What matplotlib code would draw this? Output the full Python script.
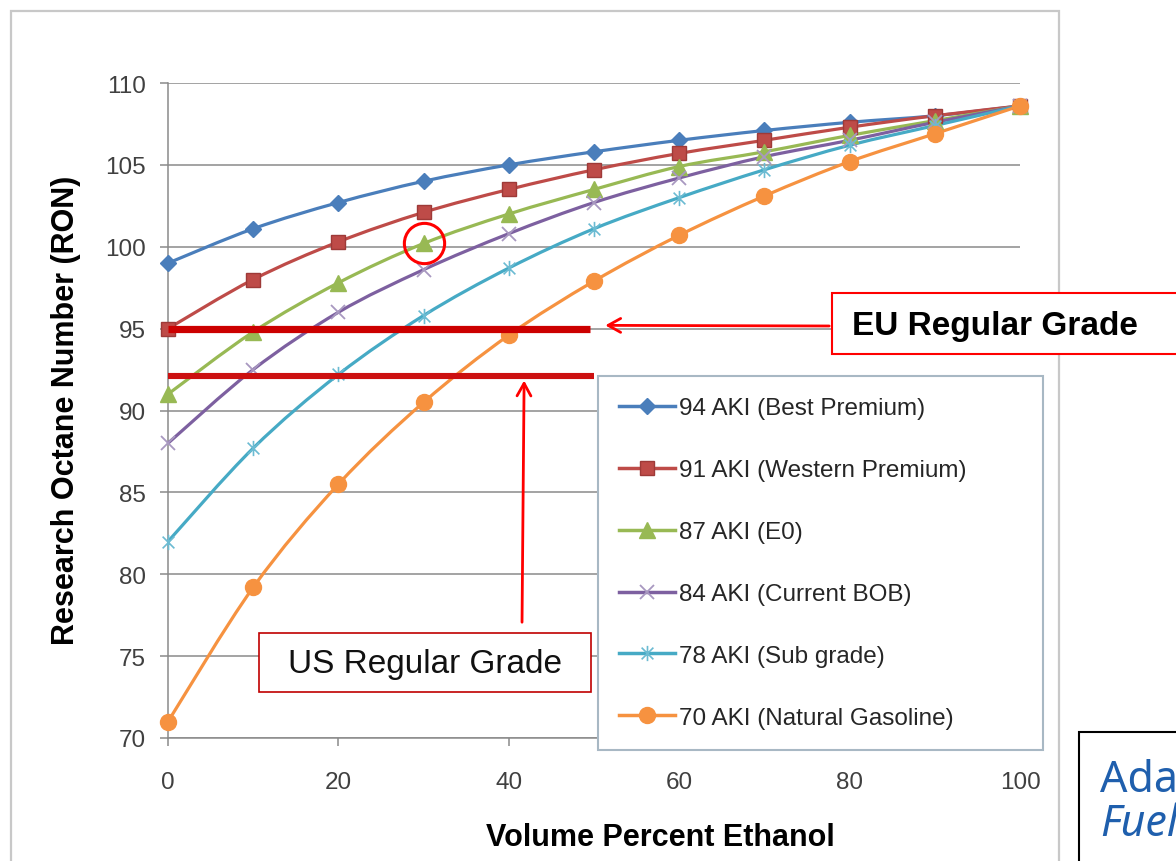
import numpy as np
import matplotlib.pyplot as plt
from matplotlib.path import Path
from matplotlib.patches import PathPatch, Rectangle
from matplotlib.lines import Line2D

plt.rcParams['font.family'] = ['Liberation Sans', 'DejaVu Sans']

# Ethanol blend level (vol %) and resulting RON for each base gasoline
ethanol_pct = [0, 10, 20, 30, 40, 50, 60, 70, 80, 90, 100]
ron_94aki = [99.0, 101.1, 102.7, 104.0, 105.0, 105.8, 106.5, 107.1, 107.6, 108.0, 108.6]
ron_91aki = [95.0, 98.0, 100.3, 102.1, 103.5, 104.7, 105.7, 106.5, 107.3, 108.0, 108.6]
ron_87aki = [91.0, 94.8, 97.8, 100.2, 102.0, 103.5, 104.9, 105.8, 106.8, 107.7, 108.6]
ron_84aki = [88.0, 92.5, 96.0, 98.6, 100.8, 102.7, 104.2, 105.5, 106.5, 107.6, 108.6]
ron_78aki = [82.0, 87.7, 92.2, 95.8, 98.7, 101.1, 103.0, 104.7, 106.2, 107.4, 108.6]
ron_70aki = [71.0, 79.2, 85.5, 90.5, 94.6, 97.9, 100.7, 103.1, 105.2, 106.9, 108.6]

series_labels = ['94 AKI (Best Premium)', '91 AKI (Western Premium)', '87 AKI (E0)',
                 '84 AKI (Current BOB)', '78 AKI (Sub grade)', '70 AKI (Natural Gasoline)']
series_values = [ron_94aki, ron_91aki, ron_87aki, ron_84aki, ron_78aki, ron_70aki]

eu_regular_ron = 95.0
us_regular_ron = 92.1
line_end_pct = 50
highlight_pct, highlight_ron = 30, 100.2

W, H = 1176, 862


def fx(px):
    return px / W


def fy(py):
    return 1 - py / H


# excel-ish asterisk marker: an X with a vertical bar
star = Path([(-1, -1), (1, 1), (-1, 1), (1, -1), (0, -1.3), (0, 1.3)],
            [Path.MOVETO, Path.LINETO, Path.MOVETO, Path.LINETO, Path.MOVETO, Path.LINETO])

styles = [
    dict(color='#4A7EBB', marker='D', ms=8.5, mec='#4A7EBB', mew=1),
    dict(color='#BE4B48', marker='s', ms=10.5, mec='#9E3A38', mew=1),
    dict(color='#98B954', marker='^', ms=11.5, mec='#98B954', mew=1),
    dict(color='#7D60A0', marker='x', ms=10, mec='#A898C0', mew=1.3),
    dict(color='#46AAC5', marker=star, ms=11, mec='#6BBBD2', mew=1.2),
    dict(color='#F69240', marker='o', ms=11.5, mec='#F69240', mew=1),
]


def smooth_path(x, y):
    # Catmull-Rom spline turned into cubic bezier segments
    pts = np.column_stack([x, y]).astype(float)
    ext = np.vstack([pts[0], pts, pts[-1]])
    verts = [pts[0]]
    codes = [Path.MOVETO]
    for i in range(1, len(ext) - 2):
        p0, p1, p2, p3 = ext[i - 1], ext[i], ext[i + 1], ext[i + 2]
        verts += [p1 + (p2 - p0) / 6, p2 - (p3 - p1) / 6, p2]
        codes += [Path.CURVE4] * 3
    return Path(verts, codes)


fig = plt.figure(figsize=(W / 100, H / 100), dpi=100)
ax = fig.add_axes([fx(168), fy(739), fx(1020) - fx(168), fy(84) - fy(739)])

# outer chart frame
fig.add_artist(Rectangle((fx(11), fy(880)), fx(1059) - fx(11), fy(12) - fy(880),
                         transform=fig.transFigure, fill=False, ec='#c8c8c8', lw=1.6))

ax.set_xlim(0, 100)
ax.set_ylim(70, 110)
ax.set_xticks(range(0, 101, 20))
ax.set_yticks(range(70, 111, 5))
ax.grid(axis='y', color='#8a8a8a', lw=1.1)
ax.set_axisbelow(True)
for s in ['top', 'right']:
    ax.spines[s].set_visible(False)
for s in ['left', 'bottom']:
    ax.spines[s].set_color('#8a8a8a')
    ax.spines[s].set_linewidth(1.1)
ax.tick_params(axis='y', length=6, width=1.1, color='#8a8a8a', pad=10,
               labelsize=17.5, labelcolor='#404040')
ax.tick_params(axis='x', length=6, width=1.1, color='#8a8a8a', pad=18,
               labelsize=17.5, labelcolor='#404040')

handles = []
for label, vals, st in zip(series_labels, series_values, styles):
    ax.add_patch(PathPatch(smooth_path(ethanol_pct, vals), fill=False,
                           ec=st['color'], lw=2.3, zorder=3, clip_on=False))
    ax.plot(ethanol_pct, vals, ls='none', marker=st['marker'], ms=st['ms'],
            mfc=st['color'], mec=st['mec'], mew=st['mew'], zorder=4, clip_on=False)
    handles.append(Line2D([], [], color=st['color'], lw=2.5, marker=st['marker'],
                          ms=st['ms'], mfc=st['color'], mec=st['mec'], mew=st['mew']))

# regular grade levels
ax.plot([0, line_end_pct - 0.5], [eu_regular_ron] * 2, color='#CC0000', lw=5.2,
        solid_capstyle='butt', zorder=5, clip_on=False)
ax.plot([0, line_end_pct], [us_regular_ron] * 2, color='#CC1010', lw=4.4,
        solid_capstyle='butt', zorder=5, clip_on=False)

# highlight circle around the E30 point of the 87 AKI blend
ax.plot([highlight_pct], [highlight_ron], ls='none', marker='o', ms=29,
        mfc='none', mec='#FF0000', mew=2.2, zorder=6)

leg = fig.legend(handles=handles, labels=series_labels, loc='upper left',
                 bbox_to_anchor=(fx(598), fy(745), fx(1043) - fx(598), fy(377) - fy(745)),
                 mode='expand', fontsize=17.5, frameon=True, fancybox=False,
                 framealpha=1, edgecolor='#a8b8c4', handlelength=2.3,
                 handletextpad=0.15, labelspacing=1.64, borderpad=0.88, borderaxespad=0)
leg.get_frame().set_linewidth(1.5)
for t in leg.get_texts():
    t.set_color('#262626')

# EU callout
ax.annotate('', xy=(51.0, 95.2), xycoords='data',
            xytext=(fx(832), fy(327)), textcoords='figure fraction',
            arrowprops=dict(arrowstyle='->,head_length=0.9,head_width=0.5',
                            color='#FF0000', lw=2))
fig.add_artist(Rectangle((fx(832), fy(355)), fx(1200) - fx(832), fy(294) - fy(355),
                         transform=fig.transFigure, fc='white', ec='#FF0000', lw=1.5))
fig.text(fx(852), fy(326), 'EU Regular Grade', fontsize=24, weight='bold',
         ha='left', va='center', color='black')

# US callout
ax.annotate('', xy=(41.8, 92.0), xycoords='data',
            xytext=(fx(522), fy(626)), textcoords='figure fraction',
            arrowprops=dict(arrowstyle='->,head_length=0.9,head_width=0.5',
                            color='#FF0000', lw=2))
fig.add_artist(Rectangle((fx(259), fy(693)), fx(591) - fx(259), fy(634) - fy(693),
                         transform=fig.transFigure, fc='white', ec='#C00000', lw=1.2))
fig.text(fx(425), fy(664), 'US Regular Grade', fontsize=24,
         ha='center', va='center', color='#111111')

fig.text(fx(66), fy(410), 'Research Octane Number (RON)', rotation=90, fontsize=22,
         weight='bold', ha='center', va='center')
fig.text(fx(660), fy(838), 'Volume Percent Ethanol', fontsize=22, weight='bold',
         ha='center', va='center')

# source box, cut at the slide edge
fig.add_artist(Rectangle((fx(1079), fy(900)), fx(1300) - fx(1079), fy(733) - fy(900),
                         transform=fig.transFigure, fill=False, ec='black', lw=1.5))
fig.text(fx(1100), fy(792), 'Ada', fontsize=31, color='#1F5FAD',
         family=['Noto Sans', 'DejaVu Sans'], ha='left', va='baseline')
fig.text(fx(1100), fy(836), 'Fuel', fontsize=31, color='#1F5FAD', style='italic',
         family=['Noto Sans', 'DejaVu Sans'], ha='left', va='baseline')

fig.savefig('out.png', dpi=100)
